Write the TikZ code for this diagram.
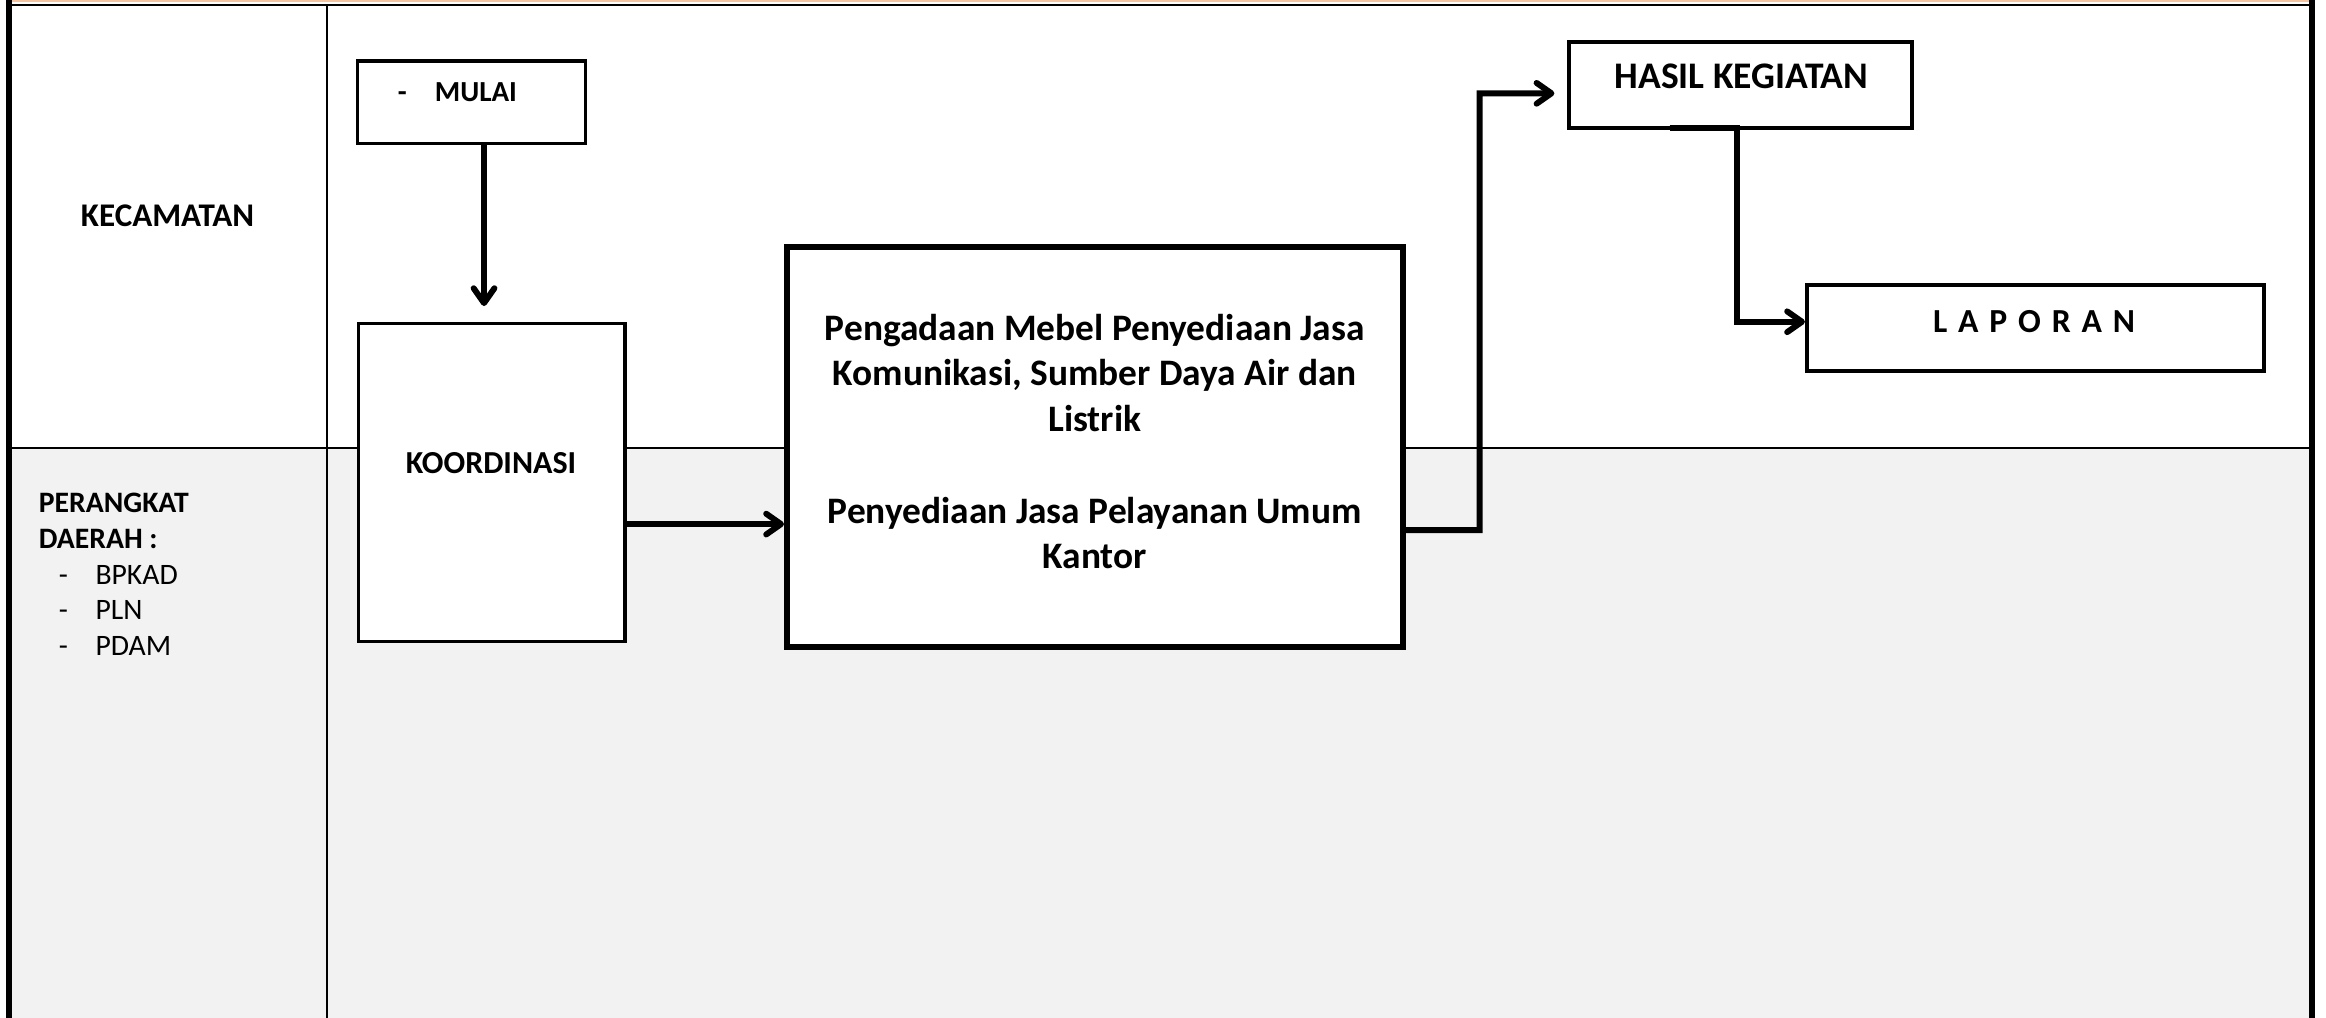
\documentclass[tikz,border=0pt]{standalone}
\usepackage{fontspec}
\setmainfont{Carlito}
\usetikzlibrary{arrows.meta}
\definecolor{lanegray}{HTML}{F2F2F2}
\definecolor{peach}{RGB}{245,196,160}
\begin{document}
\begin{tikzpicture}[x=1pt,y=-1pt,
  box/.style={draw=black, fill=white, line width=2.2pt, inner sep=0pt, rectangle},
  conn/.style={line width=4pt, line join=miter, -{Straight Barb[length=10pt,width=14pt,round]}},
  lbl/.style={inner sep=0pt}
]
\useasboundingbox (0,0) rectangle (1568,686);
% lanes
\fill[lanegray] (8,301.8) rectangle (1556.7,686);
\draw[peach, line width=1.1pt] (8,0.55) -- (1556.7,0.55);
\draw[line width=1.8pt] (8,3.35) -- (1556.7,3.35);
\draw[line width=4pt] (6,0) -- (6,686);
\draw[line width=4pt] (1558.7,0) -- (1558.7,686);
\draw[line width=1.8pt] (220.4,4.2) -- (220.4,686);
\draw[line width=1.3pt] (8,301.8) -- (1556.7,301.8);

% boxes
\node[box, minimum width=153.5pt, minimum height=55.5pt] (mulai) at (317.75,68.85) {};
\node[box, minimum width=179.8pt, minimum height=214.4pt] (koord) at (331.5,325.2) {};
\node[box, line width=4pt, minimum width=415pt, minimum height=270pt] (big) at (738,301.3) {};
\node[box, line width=2.5pt, minimum width=231.5pt, minimum height=58.4pt] (hasil) at (1173.25,57.3) {};
\node[box, line width=2.5pt, minimum width=308pt, minimum height=58pt] (lap) at (1372,221.3) {};

% connectors
\coordinate (a1) at (326.3,206.3);
\draw[conn] (mulai.south -| a1) -- (a1);
\draw[conn] ([yshift=-28.1pt]koord.east) -- ([yshift=-28.1pt]koord.east -| big.west);
\coordinate (k3) at (997.4,62.9);
\coordinate (h1) at ([xshift=-8.4pt,yshift=-5.6pt]hasil.west);
\draw[conn] ([yshift=-56pt]big.east) -| (k3) -- (h1);
\coordinate (v1) at (1171,86.3);
\draw[conn] ([xshift=-47.75pt,yshift=1.45pt]hasil.south) -- (v1) |- ([yshift=4.4pt]lap.west);

% texts
\node[lbl, font=\fontsize{22.3pt}{26pt}\selectfont\bfseries] (kectxt) at (113,145.6) {KECAMATAN};
\node[lbl, anchor=base west, font=\fontsize{20pt}{24.1pt}\selectfont] (pdtxt) at (26,345.6)
  {\begin{tabular}[t]{@{}l@{}}\textbf{PERANGKAT}\\ \textbf{DAERAH :}\\
   \hspace*{13.5pt}\makebox[24.7pt][l]{-}BPKAD\\
   \hspace*{13.5pt}\makebox[24.7pt][l]{-}PLN\\
   \hspace*{13.5pt}\makebox[24.7pt][l]{-}PDAM\end{tabular}};
\node[lbl, anchor=west, font=\fontsize{19.6pt}{23pt}\selectfont\bfseries] (mulaitxt) at (268,62.4) {-\hspace{19pt}MULAI};
\node[lbl, font=\fontsize{21.6pt}{25pt}\selectfont\bfseries] (koordtxt) at (331,311.9) {KOORDINASI};
\node[lbl, anchor=base, font=\fontsize{25.2pt}{30.85pt}\selectfont\bfseries] (bigtxt) at (738,229.2)
  {\begin{tabular}[t]{@{}c@{}}Pengadaan Mebel Penyediaan Jasa\\ Komunikasi, Sumber Daya Air dan\\ Listrik\\ \\ Penyediaan Jasa Pelayanan Umum\\ Kantor\end{tabular}};
\node[lbl, font=\fontsize{25.3pt}{29pt}\selectfont\bfseries] (hasiltxt) at (1174,51.3) {HASIL KEGIATAN};
\node[lbl, font=\fontsize{22.7pt}{27pt}\selectfont\bfseries] (laptxt) at (1371.2,216.5) {\spaceskip=7.3pt L A P O R A N};
\end{tikzpicture}
\end{document}
